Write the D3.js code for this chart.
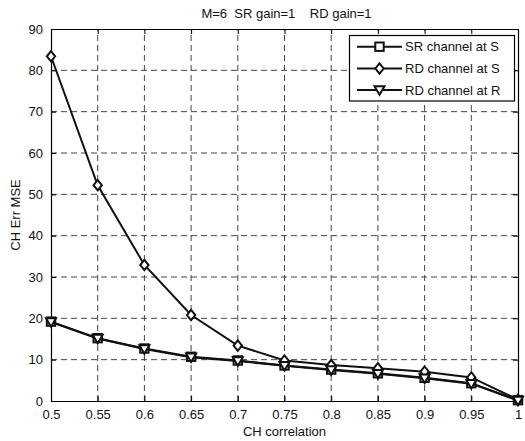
<!DOCTYPE html>
<html>
<head>
<meta charset="utf-8">
<script src="https://cdn.jsdelivr.net/npm/d3@7"></script>
<style>
  body { margin: 0; background: #fff; }
  svg { display: block; font-family: "Liberation Sans", Arial, sans-serif; }
</style>
</head>
<body>
<svg id="chart" width="525" height="441"></svg>
<script>
// Channel estimation error vs. channel correlation
const correlation = [0.5, 0.55, 0.6, 0.65, 0.7, 0.75, 0.8, 0.85, 0.9, 0.95, 1.0];
const srAtS  = [19.2, 15.2, 12.7, 10.7, 9.8, 8.6, 7.6, 6.7, 5.6, 4.3, 0.2];
const rdAtS  = [83.4, 52.2, 32.9, 20.8, 13.4, 9.8, 8.7, 7.9, 7.1, 5.7, 0.3];
const rdAtR  = [19.1, 15.1, 12.6, 10.6, 9.7, 8.5, 7.5, 6.6, 5.5, 4.2, 0.1];
const xTicks = [0.5, 0.55, 0.6, 0.65, 0.7, 0.75, 0.8, 0.85, 0.9, 0.95, 1];
const yTicks = [0, 10, 20, 30, 40, 50, 60, 70, 80, 90];
const seriesNames = ["SR channel at S", "RD channel at S", "RD channel at R"];
const seriesSymbols = ["square", "diamond", "triangle"];

const svg = d3.select("#chart");
const m = { left: 51, right: 518, top: 29, bottom: 401 };
const fs = 13;

const x = d3.scaleLinear().domain([0.5, 1]).range([m.left, m.right]);
const y = d3.scaleLinear().domain([0, 90]).range([m.bottom, m.top]);

// dashed grid
const grid = svg.append("g").attr("stroke", "#444").attr("stroke-width", 1)
  .attr("stroke-dasharray", "6,4").attr("fill", "none");
xTicks.slice(1, -1).forEach(t => {
  grid.append("line").attr("x1", x(t)).attr("x2", x(t))
    .attr("y1", m.bottom).attr("y2", m.top);
});
yTicks.slice(1, -1).forEach(t => {
  grid.append("line").attr("x1", m.left).attr("x2", m.right)
    .attr("y1", y(t)).attr("y2", y(t));
});

// axes with inward ticks on all four sides
const tickLen = 5;
const axB = svg.append("g").attr("transform", `translate(0,${m.bottom})`)
  .call(d3.axisBottom(x).tickValues(xTicks).tickFormat(d => String(d)).tickSizeInner(-tickLen).tickSizeOuter(0).tickPadding(9));
const axT = svg.append("g").attr("transform", `translate(0,${m.top})`)
  .call(d3.axisTop(x).tickValues(xTicks).tickFormat("").tickSizeInner(-tickLen).tickSizeOuter(0));
const axL = svg.append("g").attr("transform", `translate(${m.left},0)`)
  .call(d3.axisLeft(y).tickValues(yTicks).tickFormat(d3.format("d")).tickSizeInner(-tickLen).tickSizeOuter(0).tickPadding(8));
const axR = svg.append("g").attr("transform", `translate(${m.right},0)`)
  .call(d3.axisRight(y).tickValues(yTicks).tickFormat("").tickSizeInner(-tickLen).tickSizeOuter(0));
[axB, axT, axL, axR].forEach(a => {
  a.select(".domain").attr("stroke", "#000").attr("stroke-width", 1.2);
  a.selectAll(".tick line").attr("stroke", "#000");
  a.selectAll(".tick text").attr("font-size", fs).attr("fill", "#111")
    .attr("font-family", "Liberation Sans, Arial, sans-serif");
});

// markers
function drawMarker(g, kind, cx, cy) {
  const s = 4.2;
  if (kind === "square") {
    g.append("rect").attr("x", cx - s).attr("y", cy - s).attr("width", 2 * s).attr("height", 2 * s);
  } else if (kind === "diamond") {
    const d = 5.2;
    g.append("path").attr("d", `M${cx},${cy - d}L${cx + d * 0.8},${cy}L${cx},${cy + d}L${cx - d * 0.8},${cy}Z`);
  } else {
    const t = 5;
    g.append("path").attr("d", `M${cx - t},${cy - t * 0.75}L${cx + t},${cy - t * 0.75}L${cx},${cy + t * 0.95}Z`);
  }
}

const line = d3.line().x(d => x(d[0])).y(d => y(d[1]));
const allSeries = [srAtS, rdAtS, rdAtR];
allSeries.forEach((vals, i) => {
  const pts = correlation.map((c, k) => [c, vals[k]]);
  svg.append("path").datum(pts).attr("d", line)
    .attr("fill", "none").attr("stroke", "#111").attr("stroke-width", 2);
  const mg = svg.append("g").attr("fill", "#fff").attr("stroke", "#111").attr("stroke-width", 2);
  pts.forEach(p => drawMarker(mg, seriesSymbols[i], x(p[0]), y(p[1])));
});

// title and axis labels
svg.append("text").attr("x", (m.left + m.right) / 2 + 2).attr("y", 18)
  .attr("text-anchor", "middle").attr("font-size", fs).attr("fill", "#111")
  .attr("xml:space", "preserve").text("M=6  SR gain=1    RD gain=1");
svg.append("text").attr("x", (m.left + m.right) / 2).attr("y", 436)
  .attr("text-anchor", "middle").attr("font-size", fs).attr("fill", "#111").text("CH correlation");
svg.append("text").attr("transform", `translate(20,${(m.top + m.bottom) / 2}) rotate(-90)`)
  .attr("text-anchor", "middle").attr("font-size", fs).attr("fill", "#111").text("CH Err MSE");

// legend
const lg = svg.append("g");
lg.append("rect").attr("x", 349.5).attr("y", 35.5).attr("width", 165).attr("height", 65.5)
  .attr("fill", "#fff").attr("stroke", "#000").attr("stroke-width", 1.2);
const rowY = [46.7, 68.5, 90];
seriesNames.forEach((name, i) => {
  lg.append("line").attr("x1", 357).attr("x2", 402).attr("y1", rowY[i]).attr("y2", rowY[i])
    .attr("stroke", "#111").attr("stroke-width", 2);
  const mg = lg.append("g").attr("fill", "#fff").attr("stroke", "#111").attr("stroke-width", 2);
  drawMarker(mg, seriesSymbols[i], 379.5, rowY[i]);
  lg.append("text").attr("x", 405).attr("y", rowY[i] + 4.5).attr("font-size", fs)
    .attr("fill", "#111").text(name);
});
</script>
</body>
</html>
